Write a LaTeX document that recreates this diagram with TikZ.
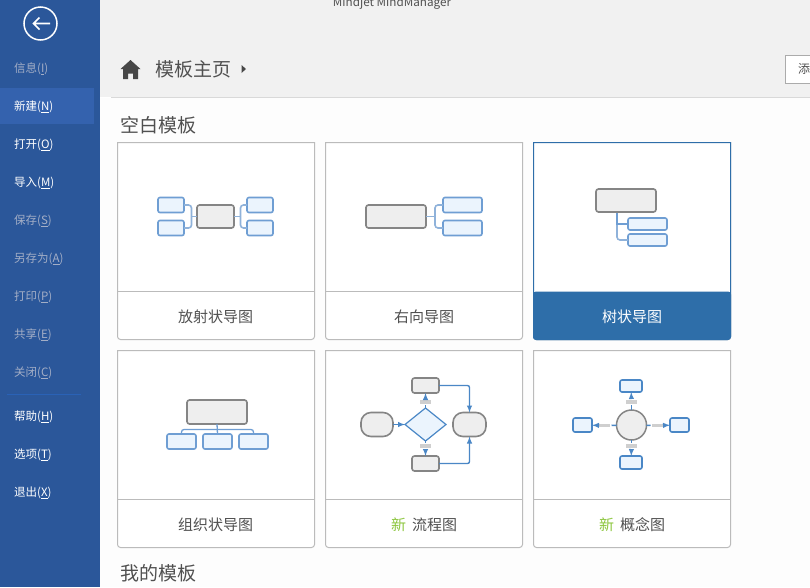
\documentclass[tikz,border=0pt]{standalone}
\usepackage{fontspec}
\setmainfont{Noto Sans CJK SC}
\usetikzlibrary{arrows,calc,shapes.geometric}
\definecolor{sidebar}{HTML}{2B579A}
\definecolor{sidehi}{HTML}{3462AE}
\definecolor{sidedim}{HTML}{A3AEC6}
\definecolor{sepblue}{HTML}{2A62B6}
\definecolor{band}{HTML}{F1F1F1}
\definecolor{page}{HTML}{FDFDFD}
\definecolor{cardline}{HTML}{BBBBBB}
\definecolor{picked}{HTML}{2E6EA9}
\definecolor{inktext}{HTML}{505050}
\definecolor{newgreen}{HTML}{8CC63E}
\definecolor{boxblue}{HTML}{6F9ED3}
\definecolor{boxfill}{HTML}{EBF4FD}
\definecolor{linkblue}{HTML}{8FB2DA}
\definecolor{flowblue}{HTML}{4A87C6}
\definecolor{topicgray}{HTML}{858585}
\definecolor{topicfill}{HTML}{EEEEEE}
\definecolor{tagfill}{HTML}{CFCFCF}
\tikzset{>=latex}
\tikzstyle{menuitem}=[anchor=west,inner sep=0pt,font=\fontsize{11.5}{12}\selectfont]
\tikzstyle{heading}=[anchor=west,inner sep=0pt,text=inktext,font=\fontsize{19}{20}\selectfont]
\tikzstyle{cardlabel}=[inner sep=0pt,text=inktext,font=\fontsize{15}{16}\selectfont]
\tikzstyle{cardbox}=[rectangle,draw=cardline,fill=white,line width=1pt]
\tikzstyle{subtopic}=[rectangle,draw=boxblue,fill=boxfill,line width=1.6pt,rounded corners=2pt,inner sep=0pt,outer sep=0pt]
\tikzstyle{topic}=[rectangle,draw=topicgray,fill=topicfill,line width=1.6pt,rounded corners=2.5pt,inner sep=0pt,outer sep=0pt]
\tikzstyle{link}=[draw=linkblue,line width=1.6pt]
\tikzstyle{flow}=[draw=flowblue,line width=1.4pt]
\tikzstyle{tag}=[rectangle,fill=tagfill,inner sep=0pt,outer sep=1.5pt,minimum width=11pt,minimum height=3.5pt]

\begin{document}
\begin{tikzpicture}[x=1pt,y=-1pt]
	\useasboundingbox (0,0) rectangle (810,587);
	\fill[page] (0,0) rectangle (810,587);
	\fill[band] (100,0) rectangle (810,97);
	\fill[white] (100,97) rectangle (111,98);
	\draw[color=black!15,line width=1pt] (111,97.5) -- (810,97.5);

	% side menu
	\fill[sidebar] (0,0) rectangle (100,587);
	\fill[sidehi] (0,88) rectangle (94,124);
	\draw[color=sepblue,line width=1pt] (7,394.5) -- (81,394.5);
	\node[circle,draw=white,line width=1.5pt,minimum size=33pt,inner sep=0pt] (back) at (40.5,23.5) {};
	\draw[white,line width=1.6pt] (50,23.5) -- (33.5,23.5) (39.5,17.5) -- (33.5,23.5) -- (39.5,29.5);

	\foreach \y/\lab/\key/\col in {69/信息/I/sidedim,107/新建/N/white,145/打开/O/white,183/导入/M/white,
		221/保存/S/sidedim,259/另存为/A/sidedim,297/打印/P/sidedim,335/共享/E/sidedim,373/关闭/C/sidedim,
		417/帮助/H/white,455/选项/T/white,493/退出/X/white} {
		\node[menuitem,text=\col] (item\key) at (14,\y) {\lab(\underline{\key})};
	};

	% header
	\node[inner sep=0pt,text=inktext,font=\fontsize{11.7}{12}\selectfont] (appname) at (392,3.5) {Mindjet MindManager};
	\fill[color=black!72] (130.5,60) -- (140.5,69) -- (138,69) -- (138,79) -- (133,79) -- (133,73.5) -- (128,73.5) -- (128,79) -- (123,79) -- (123,69) -- (120.5,69) -- cycle;
	\node[heading] (crumb) at (155,69) {模板主页};
	\fill[color=black!72] (241.5,65) -- (246,69) -- (241.5,73) -- cycle;
	\draw[draw=black!33,fill=white,line width=1pt] (785.5,55.5) rectangle (815,83.5);
	\node[anchor=west,inner sep=0pt,text=inktext,font=\fontsize{12}{12}\selectfont] (addbtn) at (798,69) {添};
	\node[heading] (blank) at (120,125) {空白模板};
	\node[heading] (mine) at (120,573) {我的模板};

	% cards
	\foreach \cx in {117.5,325.5,533.5} {
		\foreach \cy in {142.5,350.5} {
			\draw[cardbox] (\cx,\cy) -- (\cx+197,\cy) [rounded corners=3pt] -- (\cx+197,\cy+197) -- (\cx,\cy+197) [sharp corners] -- cycle;
			\draw[color=cardline,line width=1pt] (\cx,\cy+149) -- (\cx+197,\cy+149);
		};
	};
	\draw[draw=picked,fill=white,line width=1pt] (533.5,142.5) -- (730.5,142.5) [rounded corners=3pt] -- (730.5,339.5) -- (533.5,339.5) [sharp corners] -- cycle;
	\fill[picked,rounded corners=3pt] (533,291.5) -- (731,291.5) -- (731,340) -- (533,340) -- cycle;

	\node[cardlabel] (radial) at (215.5,317) {放射状导图};
	\node[cardlabel] (rightward) at (424,317) {右向导图};
	\node[cardlabel,text=white] (tree) at (632,317) {树状导图};
	\node[cardlabel] (orgchart) at (215.5,525) {组织状导图};
	\node[cardlabel] (flowchart) at (424,525) {\textcolor{newgreen}{新}\hspace{6pt}流程图};
	\node[cardlabel] (concept) at (632,525) {\textcolor{newgreen}{新}\hspace{6pt}概念图};

	% radial map
	\node[topic,minimum width=37pt,minimum height=23pt] (r0) at (215.5,216.5) {};
	\node[subtopic,minimum width=26pt,minimum height=15pt] (r1) at (171,205) {};
	\node[subtopic,minimum width=26pt,minimum height=15pt] (r2) at (171,228) {};
	\node[subtopic,minimum width=26pt,minimum height=15pt] (r3) at (260,205) {};
	\node[subtopic,minimum width=26pt,minimum height=15pt] (r4) at (260,228) {};
	\coordinate (rl) at (191.5,216.5);
	\coordinate (rr) at (240.5,216.5);
	\draw[link,rounded corners=3pt] (r1.east) -| (rl) |- (r2.east);
	\draw[link,rounded corners=3pt] (r3.west) -| (rr) |- (r4.west);
	\draw[link] (r0.west) -- (rl);
	\draw[link] (r0.east) -- (rr);

	% rightward map
	\node[topic,minimum width=60pt,minimum height=23pt] (s0) at (396,216.5) {};
	\node[subtopic,minimum width=39pt,minimum height=15pt] (s1) at (462.5,205) {};
	\node[subtopic,minimum width=39pt,minimum height=15pt] (s2) at (462.5,228) {};
	\coordinate (sr) at (435,216.5);
	\draw[link,rounded corners=3pt] (s1.west) -| (sr) |- (s2.west);
	\draw[link] (s0.east) -- (sr);

	% tree map
	\node[topic,minimum width=60pt,minimum height=23pt] (t0) at (626,200.5) {};
	\node[subtopic,minimum width=39pt,minimum height=12pt] (t1) at (647.5,224) {};
	\node[subtopic,minimum width=39pt,minimum height=12pt] (t2) at (647.5,240) {};
	\coordinate (tt) at (617,213);
	\draw[link,rounded corners=3pt] (tt) |- (t2.west);
	\draw[link,draw=boxblue] (tt) |- (t1.west);

	% org chart
	\node[topic,minimum width=60pt,minimum height=24pt] (o0) at (217,412) {};
	\node[subtopic,minimum width=29pt,minimum height=15pt] (o1) at (181.5,441.5) {};
	\node[subtopic,minimum width=29pt,minimum height=15pt] (o2) at (217.5,441.5) {};
	\node[subtopic,minimum width=29pt,minimum height=15pt] (o3) at (253.5,441.5) {};
	\coordinate (ob) at (217.5,429.5);
	\draw[link,draw=boxblue,line width=1.3pt,rounded corners=2.5pt] (o1.north) |- (ob) -| (o3.north);
	\draw[link,draw=boxblue,line width=1.3pt] (o0.south) -- (o2.north);

	% flow chart
	\node[topic,minimum width=27pt,minimum height=15pt] (f1) at (425.5,385.5) {};
	\node[topic,minimum width=27pt,minimum height=15pt] (f2) at (425.5,463.5) {};
	\node[topic,minimum width=32pt,minimum height=24pt,rounded corners=10pt] (fa) at (377,424.5) {};
	\node[topic,minimum width=33pt,minimum height=24pt,rounded corners=10pt] (fb) at (469.5,424.5) {};
	\node[diamond,draw=flowblue,fill=boxfill,line width=1.2pt,inner sep=0pt,outer sep=0pt,minimum width=41pt,minimum height=33pt] (fd) at (425.5,424.5) {};
	\node[tag] (ft1) at (425.5,402) {};
	\node[tag] (ft2) at (425.5,446) {};
	\draw[flow,->] (fa) -- (fd);
	\draw[flow] (fd) -- (ft1);
	\draw[flow,->] (ft1) -- (f1);
	\draw[flow] (fd) -- (ft2);
	\draw[flow,->] (ft2) -- (f2);
	\draw[flow,->,rounded corners=2pt] (f1) -| (fb);
	\draw[flow,->,rounded corners=2pt] (f2) -| (fb);

	% concept map
	\node[circle,draw=topicgray,fill=topicfill,line width=1.5pt,inner sep=0pt,outer sep=0pt,minimum size=30pt] (c0) at (631.5,425) {};
	\node[subtopic,draw=flowblue,minimum width=22pt,minimum height=12pt] (c1) at (631,386) {};
	\node[subtopic,draw=flowblue,minimum width=22pt,minimum height=13pt] (c2) at (631,462.5) {};
	\node[subtopic,draw=flowblue,minimum width=19pt,minimum height=14pt] (c3) at (582.5,425) {};
	\node[subtopic,draw=flowblue,minimum width=19pt,minimum height=14pt] (c4) at (679.5,425) {};
	\node[tag] (ct1) at (631.5,402) {};
	\node[tag] (ct2) at (631.5,446) {};
	\node[tag] (ct3) at (604.5,425.5) {};
	\node[tag] (ct4) at (657.5,425.5) {};
	\foreach \i in {1,2,3,4} {
		\draw[flow] (c0) -- (ct\i);
		\draw[flow,->] (ct\i) -- (c\i);
	};
\end{tikzpicture}
\end{document}
